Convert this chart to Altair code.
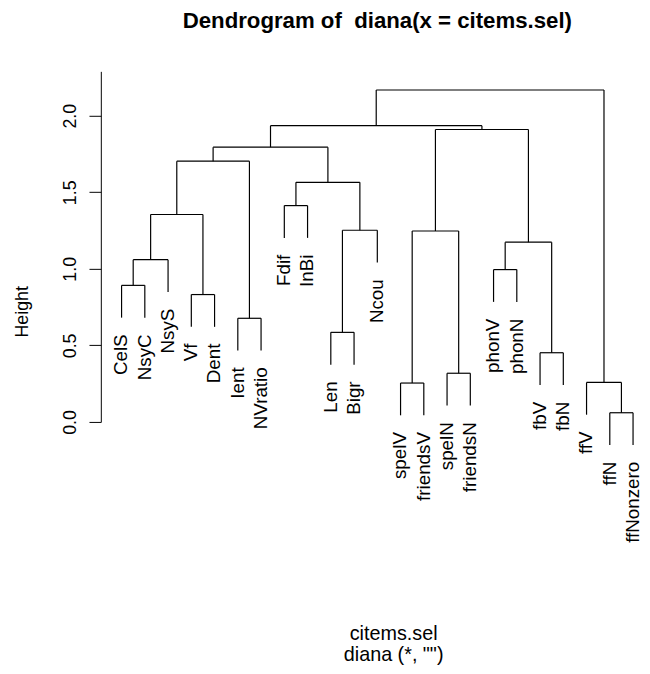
import altair as alt
import pandas as pd

# ---- data ----
leaves = ["CelS", "NsyC", "NsyS", "Vf", "Dent", "Ient", "NVratio", "Fdif", "InBi",
          "Len", "Bigr", "Ncou", "spelV", "friendsV", "spelN", "friendsN",
          "phonV", "phonN", "fbV", "fbN", "ffV", "ffN", "ffNonzero"]

# merge steps: node m<k> joins merge_a[k-1] and merge_b[k-1] at merge_h[k-1]
merge_a = ["CelS", "m1", "Vf", "m2", "Ient", "m4", "Fdif", "Len", "m8", "m7", "m6",
           "spelV", "spelN", "m12", "phonV", "fbV", "m15", "m14", "m11", "ffN", "ffV", "m19"]
merge_b = ["NsyC", "NsyS", "Dent", "m3", "NVratio", "m5", "InBi", "Bigr", "Ncou", "m9", "m10",
           "friendsV", "friendsN", "m13", "phonN", "fbN", "m16", "m17", "m18", "ffNonzero", "m20", "m21"]
merge_h = [0.892, 1.060, 0.832, 1.355, 0.677, 1.703, 1.413, 0.585, 1.252, 1.565, 1.795,
           0.254, 0.318, 1.247, 0.995, 0.452, 1.174, 1.910, 1.935, 0.060, 0.258, 2.168]

y_ticks = [0.0, 0.5, 1.0, 1.5, 2.0]
hang = 0.1

# ---- dendrogram layout (R plot.hclust style) ----
xpos = {name: i + 1 for i, name in enumerate(leaves)}
hpos = {}
hang_len = hang * (max(merge_h) - min(merge_h))
segs = []
labels = []
for k, (a, b, h) in enumerate(zip(merge_a, merge_b, merge_h), start=1):
    node = f"m{k}"
    for child in (a, b):
        if child in hpos:
            bottom = hpos[child]
        else:
            bottom = h - hang_len
            labels.append({"x": xpos[child], "y": bottom, "label": child})
        segs.append({"x": xpos[child], "x2": xpos[child], "y": h, "y2": bottom})
    segs.append({"x": xpos[a], "x2": xpos[b], "y": h, "y2": h})
    xpos[node] = (xpos[a] + xpos[b]) / 2
    hpos[node] = h

seg_df = pd.DataFrame(segs)
lab_df = pd.DataFrame(labels)

FONT = "Liberation Sans"
xscale = alt.Scale(domain=[0.108, 23.3], nice=False, zero=False)
yscale = alt.Scale(domain=[0, 2.29], nice=False, zero=False)

lines = alt.Chart(seg_df).mark_rule(color="black", strokeWidth=1.2).encode(
    x=alt.X("x:Q", scale=xscale,
            axis=alt.Axis(domain=False, ticks=False, labels=False, grid=False,
                          title=["citems.sel", 'diana (*, "")'],
                          titleFont=FONT, titleFontSize=20, titleFontWeight="normal",
                          titleColor="black", titleX=296, titleY=204,
                          titleBaseline="top", titleAlign="center", titleLineHeight=22)),
    x2="x2:Q",
    y=alt.Y("y:Q", scale=yscale,
            axis=alt.Axis(values=y_ticks, format=".1f", grid=False,
                          domainColor="black", domainWidth=1, tickColor="black",
                          tickWidth=1, tickSize=12, labelAngle=270,
                          labelAlign="center", labelBaseline="alphabetic",
                          labelPadding=14, labelFont=FONT, labelFontSize=18,
                          labelColor="black", title="Height", titleFont=FONT,
                          titleFontSize=18, titleFontWeight="normal", titleColor="black",
                          titleAngle=270, titleX=-79, titleY=243,
                          titleAlign="center", titleBaseline="middle")),
    y2="y2:Q",
)

texts = alt.Chart(lab_df).mark_text(
    angle=270, align="right", baseline="middle", dx=-17,
    font=FONT, fontSize=19, color="black"
).encode(
    x=alt.X("x:Q", scale=xscale),
    y=alt.Y("y:Q", scale=yscale),
    text="label:N",
)

chart = alt.layer(lines, texts).properties(
    width=546, height=355,
    autosize=alt.AutoSizeParams(type="none"),
    padding={"left": 94, "top": 60, "right": 2, "bottom": 243},
    title=alt.TitleParams("Dendrogram of\u00a0 diana(x = citems.sel)", font=FONT,
                          fontSize=22.5, fontWeight="bold", color="black",
                          anchor="middle", frame="group", offset=39, dx=7),
).configure(background="white").configure_view(stroke=None)

chart.save("out.html", embed_options={"renderer": "svg", "actions": False})
